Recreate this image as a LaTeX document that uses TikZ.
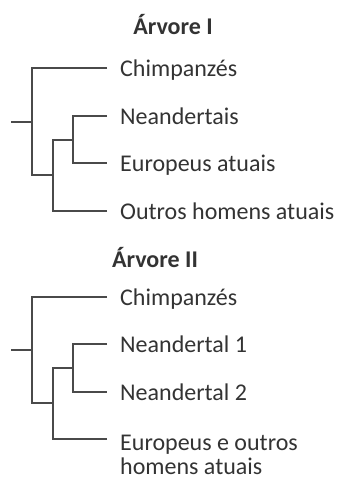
\documentclass[tikz,border=0pt]{standalone}
\usepackage{fontspec}
\setmainfont{Carlito}
\definecolor{ink}{HTML}{333333}
\definecolor{twig}{HTML}{4A4A4A}
\tikzset{
  branch/.style={draw=twig,line width=1.4pt},
  taxon/.style={anchor=base west,inner sep=0pt,text=ink,align=left,font=\fontsize{24}{24}\selectfont},
  treetitle/.style={anchor=base,inner sep=0pt,text=ink,font=\fontsize{24}{24}\selectfont\bfseries}
}
\begin{document}
\begin{tikzpicture}[x=1pt,y=-1pt]
\useasboundingbox (0,0) rectangle (337,477);
\node[treetitle] (titleI) at (173,34) {Árvore I};
\coordinate (rootI) at (11,122);
\coordinate (aI) at (32,122);
\coordinate (bI) at (53,175);
\coordinate (cI) at (73,140);
\coordinate (tipIa) at (107,68);
\coordinate (tipIb) at (107,116);
\coordinate (tipIc) at (107,163);
\coordinate (tipId) at (107,211);
\node[taxon] (chimpI) at ([xshift=13pt,yshift=-8pt]tipIa) {Chimpanzés};
\node[taxon] (neandI) at ([xshift=13pt,yshift=-8pt]tipIb) {Neandertais};
\node[taxon] (europI) at ([xshift=13pt,yshift=-8pt]tipIc) {Europeus atuais};
\node[taxon] (outrosI) at ([xshift=13pt,yshift=-8pt]tipId) {Outros homens atuais};
\draw[branch] (rootI)--(aI);
\draw[branch] (tipIa)-|(aI)|-(bI);
\draw[branch] (tipId)-|(bI)|-(cI);
\draw[branch] (tipIb)-|(cI)|-(tipIc);
\node[treetitle] (titleII) at (155,267) {Árvore II};
\coordinate (rootII) at (11,350);
\coordinate (aII) at (32,350);
\coordinate (bII) at (53,403);
\coordinate (cII) at (73,368);
\coordinate (tipIIa) at (107,297);
\coordinate (tipIIb) at (107,344);
\coordinate (tipIIc) at (107,392);
\coordinate (tipIId) at (107,439);
\node[taxon] (chimpII) at ([xshift=13pt,yshift=-8pt]tipIIa) {Chimpanzés};
\node[taxon] (neandIIa) at ([xshift=13pt,yshift=-8pt]tipIIb) {Neandertal 1};
\node[taxon] (neandIIb) at ([xshift=13pt,yshift=-8pt]tipIIc) {Neandertal 2};
% base of a two-line node is its last line
\node[taxon] (europII) at ([xshift=13pt,yshift=-35pt]tipIId) {Europeus e outros\\homens atuais};
\draw[branch] (rootII)--(aII);
\draw[branch] (tipIIa)-|(aII)|-(bII);
\draw[branch] (tipIId)-|(bII)|-(cII);
\draw[branch] (tipIIb)-|(cII)|-(tipIIc);
\end{tikzpicture}
\end{document}
